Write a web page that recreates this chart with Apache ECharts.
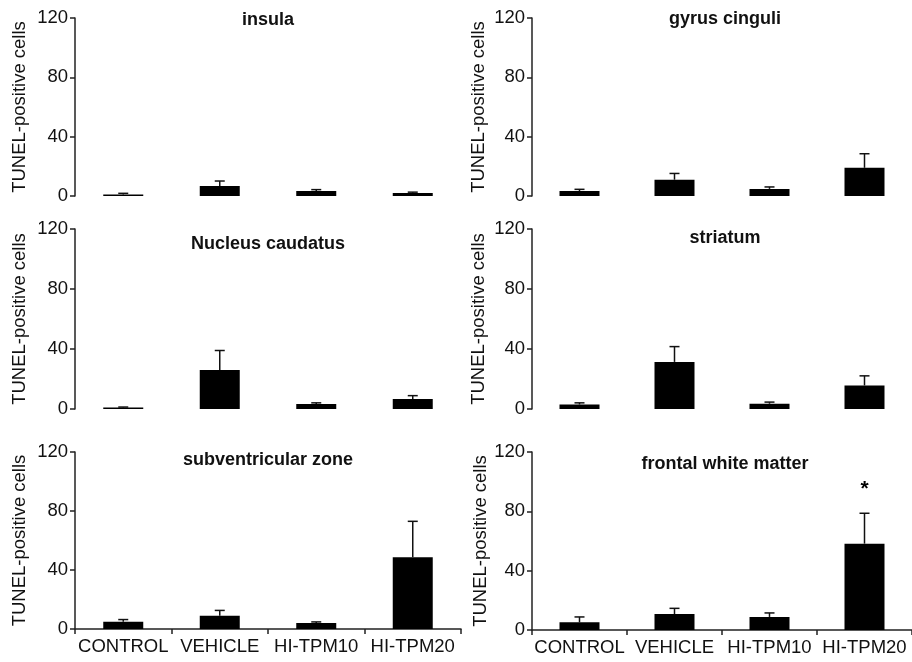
<!DOCTYPE html>
<html>
<head>
<meta charset="utf-8">
<script src="https://cdn.jsdelivr.net/npm/echarts@6/dist/echarts.min.js"></script>
<style>
  html, body { margin: 0; padding: 0; background: #fff; }
  #main { width: 912px; height: 662px; }
</style>
</head>
<body>
<div id="main"></div>
<script>
// groups on the x axis
const categories = ['CONTROL', 'VEHICLE', 'HI-TPM10', 'HI-TPM20'];
const panelTitles = ['insula', 'gyrus cinguli', 'Nucleus caudatus', 'striatum', 'subventricular zone', 'frontal white matter'];
const yName = 'TUNEL-positive cells';
const yMin = 0, yMax = 120, yStep = 40;

// mean and SEM per panel
const insulaMean = [1.0, 6.7, 3.3, 2.0];
const insulaErr = [0.8, 3.4, 1.0, 0.6];
const cinguliMean = [3.3, 11.0, 4.8, 19.0];
const cinguliErr = [1.2, 4.2, 1.3, 9.5];
const caudatusMean = [1.0, 26.0, 3.3, 6.7];
const caudatusErr = [0.3, 13.0, 0.8, 2.2];
const striatumMean = [3.0, 31.4, 3.5, 15.7];
const striatumErr = [1.1, 10.2, 1.1, 6.4];
const svzMean = [5.0, 9.0, 4.0, 48.6];
const svzErr = [1.4, 3.6, 0.8, 24.4];
const fwmMean = [5.2, 10.8, 8.8, 58.2];
const fwmErr = [3.6, 3.8, 2.7, 20.5];
const fwmStars = ['', '', '', '*'];

const panels = [
  { mean: insulaMean, err: insulaErr, stars: null },
  { mean: cinguliMean, err: cinguliErr, stars: null },
  { mean: caudatusMean, err: caudatusErr, stars: null },
  { mean: striatumMean, err: striatumErr, stars: null },
  { mean: svzMean, err: svzErr, stars: null },
  { mean: fwmMean, err: fwmErr, stars: fwmStars }
];

// layout of the 6 plots (pixel boxes)
const grids = [
  { left: 75, top: 18, width: 386, height: 178 },
  { left: 532, top: 18, width: 386, height: 178 },
  { left: 75, top: 229, width: 386, height: 180 },
  { left: 532, top: 229, width: 386, height: 180 },
  { left: 75, top: 452, width: 386, height: 177 },
  { left: 532, top: 452, width: 386, height: 178 }
];
const titleTops = [11, 10, 235, 229, 451, 455];
const nameGaps = [46, 44, 46, 44, 46, 41];

const FONT = '"Liberation Sans", Arial, Helvetica, sans-serif';
const AXIS_COLOR = '#222';
const FS = 18.5;

function errRender(stars) {
  return function (params, api) {
    const x = api.value(0);
    const low = api.coord([x, api.value(1)]);
    const high = api.coord([x, api.value(2)]);
    const cap = 5;
    const style = { stroke: '#111', lineWidth: 1.5 };
    const children = [
      { type: 'line', shape: { x1: low[0], y1: low[1], x2: high[0], y2: high[1] }, style: style },
      { type: 'line', shape: { x1: high[0] - cap, y1: high[1], x2: high[0] + cap, y2: high[1] }, style: style }
    ];
    if (stars && stars[params.dataIndex]) {
      children.push({
        type: 'text',
        style: {
          text: stars[params.dataIndex], x: high[0], y: high[1] - 24,
          align: 'center', verticalAlign: 'middle',
          font: 'bold 21px ' + FONT, fill: '#000'
        }
      });
    }
    return { type: 'group', children: children };
  };
}

const chart = echarts.init(document.getElementById('main'), null, { renderer: 'canvas' });

const option = {
  animation: false,
  backgroundColor: '#fff',
  textStyle: { fontFamily: FONT },
  title: panelTitles.map(function (t, i) {
    return {
      text: t,
      left: grids[i].left + grids[i].width / 2,
      top: titleTops[i],
      textAlign: 'center',
      padding: 0,
      textStyle: { fontFamily: FONT, fontSize: 18, fontWeight: 'bold', color: '#111' }
    };
  }),
  grid: grids,
  xAxis: grids.map(function (g, i) {
    const bottomRow = i >= 4;
    return {
      type: 'category',
      gridIndex: i,
      data: categories,
      boundaryGap: true,
      axisLine: { show: bottomRow, lineStyle: { color: AXIS_COLOR, width: 1.5 } },
      axisTick: { show: bottomRow, length: 5, lineStyle: { color: AXIS_COLOR, width: 1.5 } },
      axisLabel: { show: bottomRow, fontSize: FS, color: '#111', margin: 8, fontFamily: FONT, interval: 0 },
      splitLine: { show: false }
    };
  }),
  yAxis: grids.map(function (g, i) {
    return {
      type: 'value',
      gridIndex: i,
      min: yMin,
      max: yMax,
      interval: yStep,
      name: yName,
      nameLocation: 'middle',
      nameGap: nameGaps[i],
      nameTextStyle: { fontSize: FS, color: '#111', fontFamily: FONT },
      axisLine: { show: true, lineStyle: { color: AXIS_COLOR, width: 1.5 } },
      axisTick: { show: true, length: 5, lineStyle: { color: AXIS_COLOR, width: 1.5 } },
      axisLabel: { fontSize: FS, color: '#111', margin: 7, fontFamily: FONT },
      splitLine: { show: false }
    };
  }),
  series: []
};

panels.forEach(function (p, i) {
  option.series.push({
    type: 'bar',
    xAxisIndex: i,
    yAxisIndex: i,
    data: p.mean,
    barWidth: 40,
    itemStyle: { color: '#000' }
  });
  option.series.push({
    type: 'custom',
    xAxisIndex: i,
    yAxisIndex: i,
    renderItem: errRender(p.stars),
    encode: { x: 0, y: [1, 2] },
    data: p.mean.map(function (m, k) { return [k, m, m + p.err[k]]; }),
    z: 3
  });
});

chart.setOption(option);
</script>
</body>
</html>
